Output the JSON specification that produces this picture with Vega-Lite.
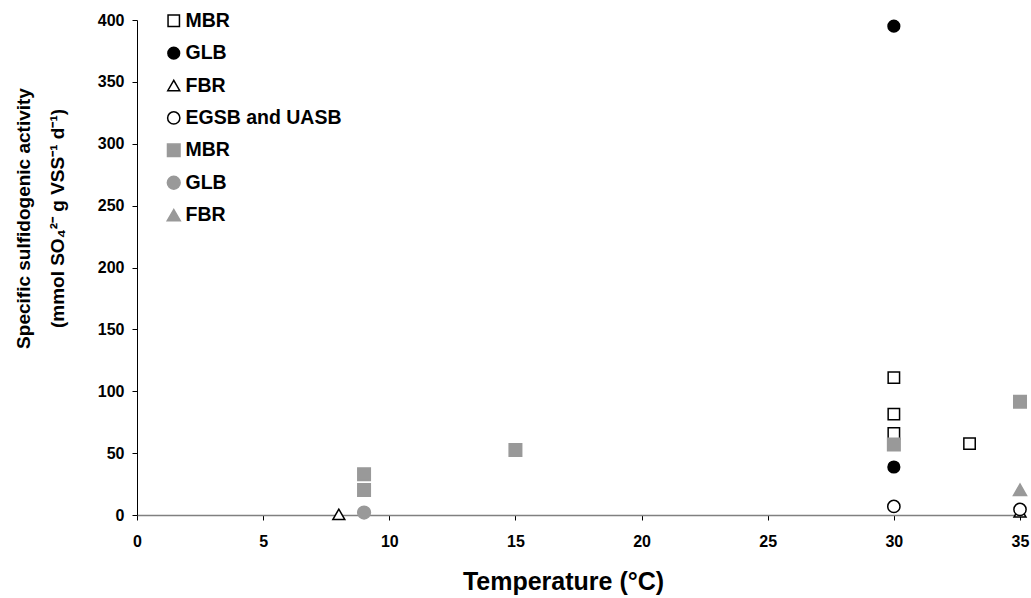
{
  "$schema": "https://vega.github.io/schema/vega-lite/v6.json",
  "width": 883,
  "height": 495,
  "autosize": "none",
  "padding": {"left": 137, "top": 20, "right": 11, "bottom": 83},
  "background": "white",
  "config": {
    "view": {"stroke": null},
    "font": "Liberation Sans",
    "axis": {"grid": false, "labelFont": "Liberation Sans", "titleFont": "Liberation Sans", "labelFontWeight": "bold", "titleFontWeight": "bold", "labelColor": "black", "titleColor": "black", "tickColor": "black", "tickSize": 5, "labelFontSize": 16},
    "legend": {"orient": "none", "legendX": 27, "legendY": -9, "title": null, "labelFont": "Liberation Sans", "labelFontWeight": "bold", "labelFontSize": 19.5, "labelColor": "black", "rowPadding": 11.4, "labelOffset": 2, "padding": 0, "symbolStrokeWidth": 1.5}
  },
  "data": {
    "values": [
      {"temp": 30, "ssa": 111, "series": "MBR_o"},
      {"temp": 30, "ssa": 81.5, "series": "MBR_o"},
      {"temp": 30, "ssa": 65.8, "series": "MBR_o"},
      {"temp": 33, "ssa": 57.7, "series": "MBR_o"},
      {"temp": 30, "ssa": 395, "series": "GLB_b"},
      {"temp": 30, "ssa": 38.8, "series": "GLB_b"},
      {"temp": 8, "ssa": 0.5, "series": "FBR_o"},
      {"temp": 35, "ssa": 2.5, "series": "FBR_o"},
      {"temp": 30, "ssa": 6.9, "series": "EGSB and UASB"},
      {"temp": 35, "ssa": 4.5, "series": "EGSB and UASB"},
      {"temp": 9, "ssa": 33, "series": "MBR_g"},
      {"temp": 9, "ssa": 20.2, "series": "MBR_g"},
      {"temp": 15, "ssa": 52.5, "series": "MBR_g"},
      {"temp": 30, "ssa": 57, "series": "MBR_g"},
      {"temp": 35, "ssa": 91.5, "series": "MBR_g"},
      {"temp": 9, "ssa": 2, "series": "GLB_g"},
      {"temp": 35, "ssa": 20.4, "series": "FBR_g"}
    ]
  },
  "mark": {"type": "point", "filled": true, "strokeWidth": 1.5, "opacity": 1},
  "encoding": {
    "x": {
      "field": "temp", "type": "quantitative",
      "scale": {"domain": [0, 35], "nice": false, "zero": false},
      "axis": {"values": [0, 5, 10, 15, 20, 25, 30, 35], "title": "Temperature (°C)", "titleFontSize": 25, "titleX": 426, "titleAlign": "center", "domainColor": "#808080", "domainWidth": 1.5, "labelPadding": 13, "titlePadding": 20, "labelFlush": false}
    },
    "y": {
      "field": "ssa", "type": "quantitative",
      "scale": {"domain": [0, 400], "nice": false},
      "axis": {"values": [0, 50, 100, 150, 200, 250, 300, 350, 400], "title": ["Specific sulfidogenic activity", "(mmol SO₄²⁻ g VSS⁻¹ d⁻¹)"], "titleFontSize": 19, "domainColor": "black", "labelPadding": 8, "titleX": -114, "titleY": 198, "titleAngle": 270, "titleAlign": "center", "titleBaseline": "middle", "titleLineHeight": 34, "labelFlush": false}
    },
    "shape": {
      "field": "series", "type": "nominal",
      "scale": {
        "domain": ["MBR_o", "GLB_b", "FBR_o", "EGSB and UASB", "MBR_g", "GLB_g", "FBR_g"],
        "range": ["square", "circle", "triangle-up", "circle", "square", "circle", "triangle-up"]
      },
      "legend": {"labelExpr": "split(datum.label, '_')[0]"}
    },
    "fill": {
      "field": "series", "type": "nominal",
      "scale": {
        "domain": ["MBR_o", "GLB_b", "FBR_o", "EGSB and UASB", "MBR_g", "GLB_g", "FBR_g"],
        "range": ["white", "black", "white", "white", "#999999", "#999999", "#999999"]
      },
      "legend": {"labelExpr": "split(datum.label, '_')[0]"}
    },
    "stroke": {
      "field": "series", "type": "nominal",
      "scale": {
        "domain": ["MBR_o", "GLB_b", "FBR_o", "EGSB and UASB", "MBR_g", "GLB_g", "FBR_g"],
        "range": ["black", "black", "black", "black", "#999999", "#999999", "#999999"]
      },
      "legend": {"labelExpr": "split(datum.label, '_')[0]"}
    },
    "size": {
      "field": "series", "type": "nominal",
      "scale": {
        "domain": ["MBR_o", "GLB_b", "FBR_o", "EGSB and UASB", "MBR_g", "GLB_g", "FBR_g"],
        "range": [130, 170, 150, 140, 190, 160, 170]
      },
      "legend": {"labelExpr": "split(datum.label, '_')[0]"}
    }
  }
}
